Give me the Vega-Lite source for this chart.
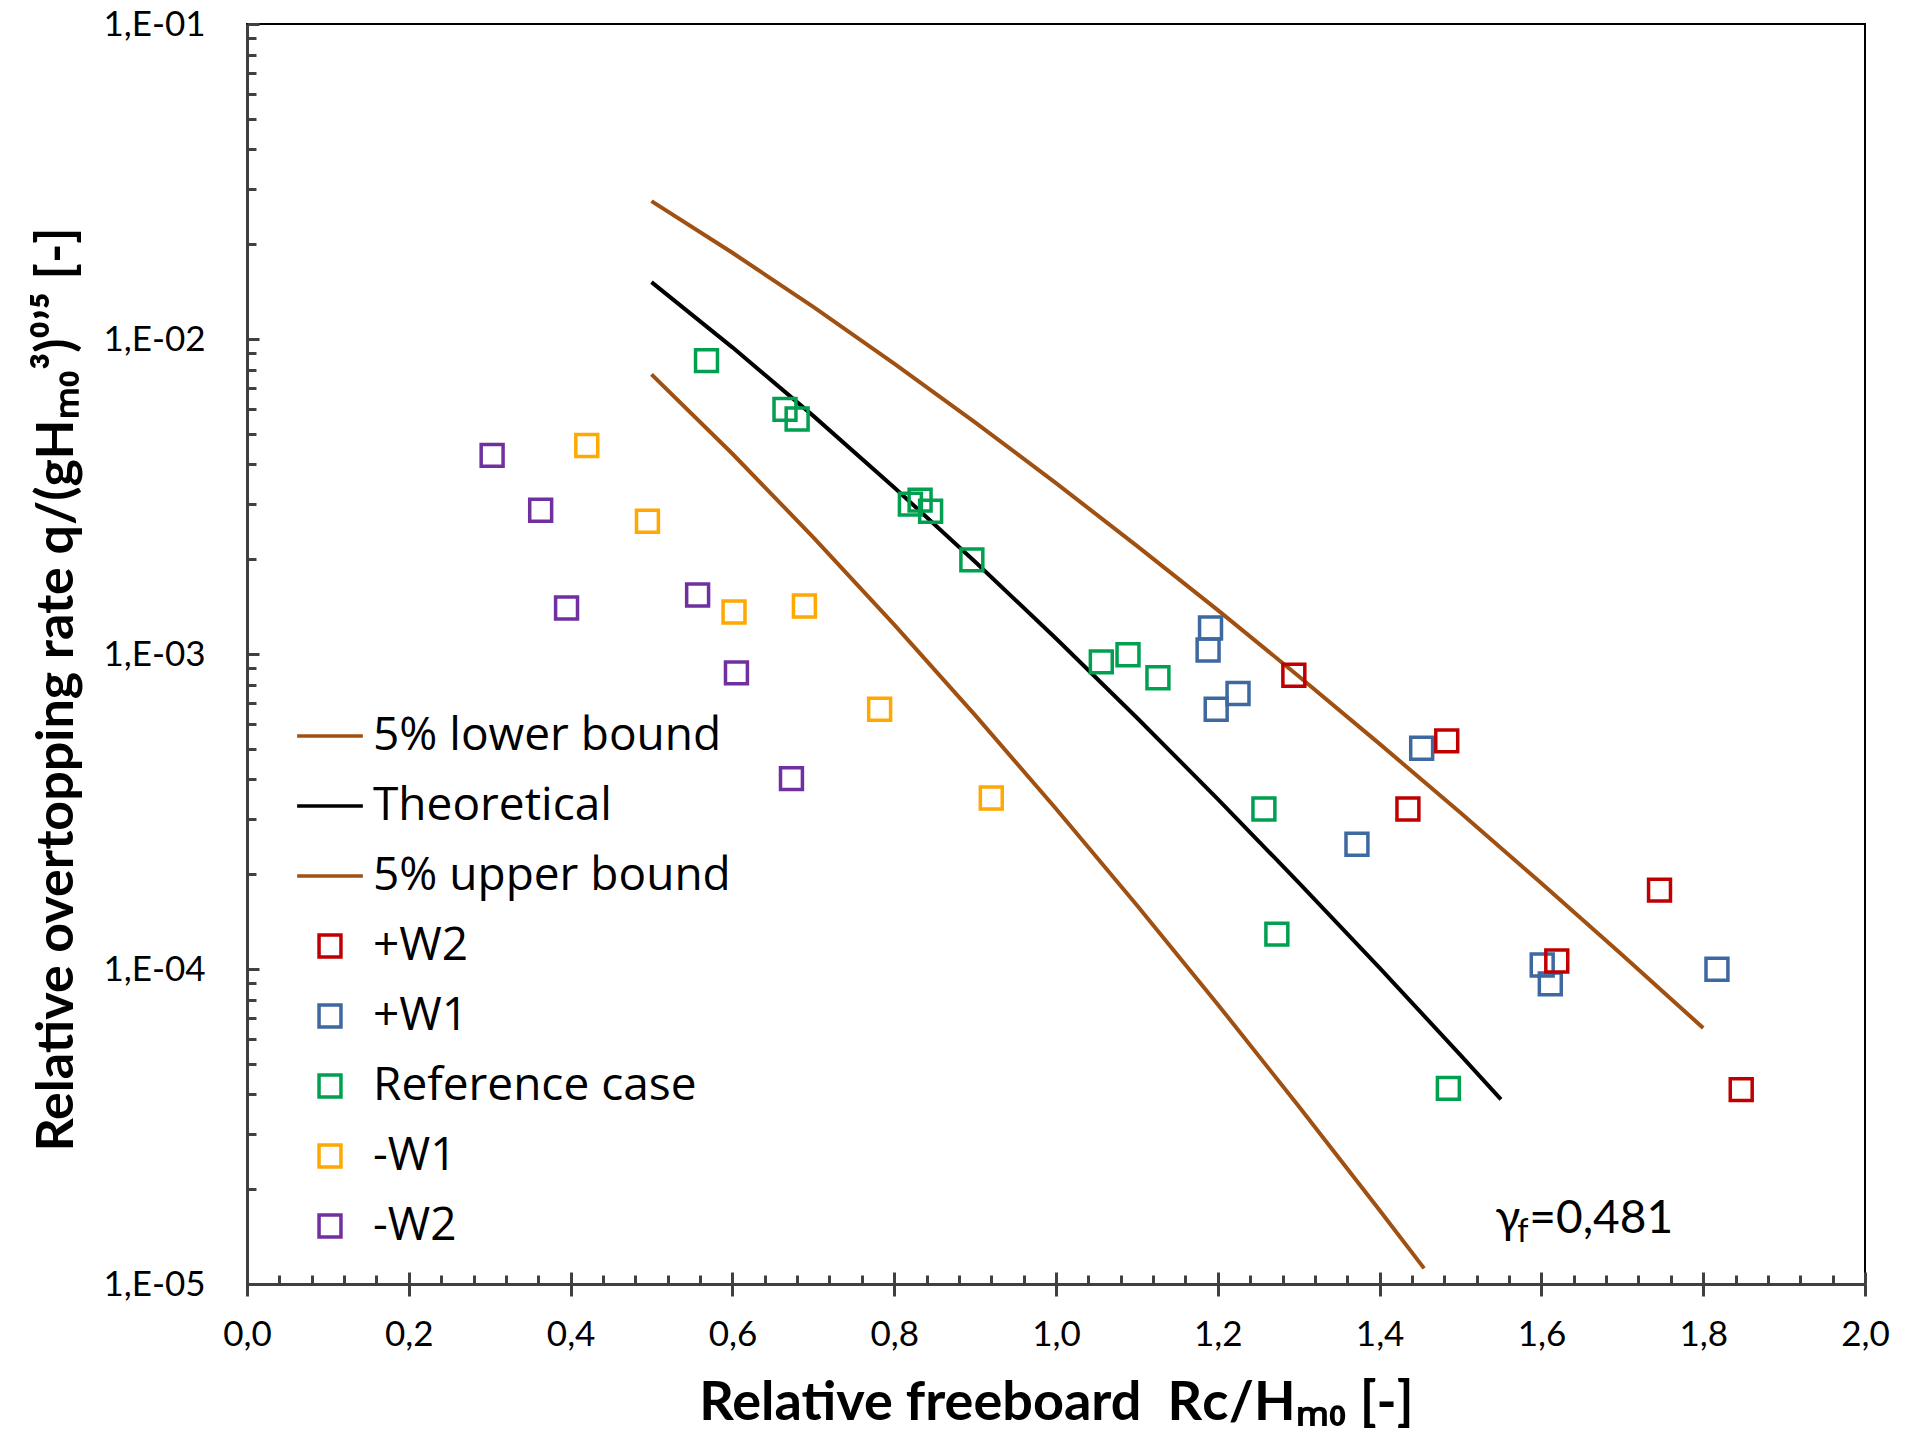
{
  "$schema": "https://vega.github.io/schema/vega-lite/v6.json",
  "autosize": {"type": "none"},
  "padding": {"left": 247, "top": 24, "right": 40, "bottom": 151},
  "width": 1618,
  "height": 1260,
  "background": "white",
  "config": {
    "view": {"stroke": "#000000", "strokeWidth": 2},
    "axis": {
      "grid": false,
      "labelFont": "Lato",
      "labelFontSize": 35,
      "labelColor": "#000000",
      "titleFont": "Lato",
      "titleFontSize": 52,
      "titleFontWeight": "bold",
      "titleColor": "#000000",
      "domainColor": "#404040",
      "domainWidth": 3,
      "tickColor": "#404040",
      "tickWidth": 3
    },
    "legend": {
      "orient": "none",
      "legendX": 60,
      "legendY": 689,
      "padding": 0,
      "gridAlign": "all",
      "labelFont": "Open Sans",
      "labelFontSize": 46,
      "labelColor": "#000000",
      "labelOffset": 20,
      "rowPadding": 24,
      "symbolSize": 480,
      "symbolStrokeWidth": 3.5,
      "labelLimit": 600
    }
  },
  "datasets": {
    "curves": [
      {"series": "5% upper bound", "x": 0.5, "q": 0.02739},
      {"series": "5% upper bound", "x": 0.6, "q": 0.018788},
      {"series": "5% upper bound", "x": 0.7, "q": 0.01264},
      {"series": "5% upper bound", "x": 0.8, "q": 0.008354},
      {"series": "5% upper bound", "x": 0.9, "q": 0.005437},
      {"series": "5% upper bound", "x": 1.0, "q": 0.003486},
      {"series": "5% upper bound", "x": 1.1, "q": 0.002205},
      {"series": "5% upper bound", "x": 1.2, "q": 0.0013777},
      {"series": "5% upper bound", "x": 1.3, "q": 0.0008503},
      {"series": "5% upper bound", "x": 1.4, "q": 0.0005185},
      {"series": "5% upper bound", "x": 1.5, "q": 0.0003132},
      {"series": "5% upper bound", "x": 1.6, "q": 0.0001872},
      {"series": "5% upper bound", "x": 1.7, "q": 0.0001108},
      {"series": "5% upper bound", "x": 1.8, "q": 0.00006496},
      {"series": "Theoretical", "x": 0.5, "q": 0.015151},
      {"series": "Theoretical", "x": 0.6, "q": 0.00941},
      {"series": "Theoretical", "x": 0.7, "q": 0.005702},
      {"series": "Theoretical", "x": 0.8, "q": 0.003379},
      {"series": "Theoretical", "x": 0.9, "q": 0.001963},
      {"series": "Theoretical", "x": 1.0, "q": 0.0011194},
      {"series": "Theoretical", "x": 1.1, "q": 0.0006277},
      {"series": "Theoretical", "x": 1.2, "q": 0.0003463},
      {"series": "Theoretical", "x": 1.3, "q": 0.0001881},
      {"series": "Theoretical", "x": 1.4, "q": 0.0001008},
      {"series": "Theoretical", "x": 1.5, "q": 0.0000533},
      {"series": "Theoretical", "x": 1.55, "q": 0.00003856},
      {"series": "5% lower bound", "x": 0.5, "q": 0.007725},
      {"series": "5% lower bound", "x": 0.6, "q": 0.004322},
      {"series": "5% lower bound", "x": 0.7, "q": 0.002347},
      {"series": "5% lower bound", "x": 0.8, "q": 0.0012397},
      {"series": "5% lower bound", "x": 0.9, "q": 0.0006396},
      {"series": "5% lower bound", "x": 1.0, "q": 0.0003226},
      {"series": "5% lower bound", "x": 1.1, "q": 0.0001594},
      {"series": "5% lower bound", "x": 1.2, "q": 0.00007719},
      {"series": "5% lower bound", "x": 1.3, "q": 0.00003667},
      {"series": "5% lower bound", "x": 1.4, "q": 0.00001714},
      {"series": "5% lower bound", "x": 1.455, "q": 0.00001121}
    ],
    "pts": [
      {"series": "-W2", "x": 0.303, "q": 0.00427},
      {"series": "-W2", "x": 0.363, "q": 0.00286},
      {"series": "-W2", "x": 0.395, "q": 0.0014},
      {"series": "-W2", "x": 0.557, "q": 0.00154},
      {"series": "-W2", "x": 0.605, "q": 0.000871},
      {"series": "-W2", "x": 0.673, "q": 0.000402},
      {"series": "-W1", "x": 0.42, "q": 0.00459},
      {"series": "-W1", "x": 0.495, "q": 0.00264},
      {"series": "-W1", "x": 0.602, "q": 0.00136},
      {"series": "-W1", "x": 0.689, "q": 0.00142},
      {"series": "-W1", "x": 0.782, "q": 0.000668},
      {"series": "-W1", "x": 0.92, "q": 0.000349},
      {"series": "Reference case", "x": 0.568, "q": 0.00854},
      {"series": "Reference case", "x": 0.665, "q": 0.00598},
      {"series": "Reference case", "x": 0.68, "q": 0.00557},
      {"series": "Reference case", "x": 0.82, "q": 0.00299},
      {"series": "Reference case", "x": 0.832, "q": 0.00308},
      {"series": "Reference case", "x": 0.845, "q": 0.00284},
      {"series": "Reference case", "x": 0.896, "q": 0.00199},
      {"series": "Reference case", "x": 1.056, "q": 0.000944},
      {"series": "Reference case", "x": 1.089, "q": 0.000995},
      {"series": "Reference case", "x": 1.126, "q": 0.000841},
      {"series": "Reference case", "x": 1.257, "q": 0.000322},
      {"series": "Reference case", "x": 1.273, "q": 0.000129},
      {"series": "Reference case", "x": 1.485, "q": 0.0000418},
      {"series": "+W1", "x": 1.191, "q": 0.00121},
      {"series": "+W1", "x": 1.188, "q": 0.00103},
      {"series": "+W1", "x": 1.225, "q": 0.000749},
      {"series": "+W1", "x": 1.198, "q": 0.000668},
      {"series": "+W1", "x": 1.452, "q": 0.000502},
      {"series": "+W1", "x": 1.372, "q": 0.000249},
      {"series": "+W1", "x": 1.601, "q": 0.000103},
      {"series": "+W1", "x": 1.611, "q": 0.0000897},
      {"series": "+W1", "x": 1.817, "q": 0.0000998},
      {"series": "+W2", "x": 1.294, "q": 0.000856},
      {"series": "+W2", "x": 1.483, "q": 0.00053},
      {"series": "+W2", "x": 1.435, "q": 0.000322},
      {"series": "+W2", "x": 1.746, "q": 0.000178},
      {"series": "+W2", "x": 1.619, "q": 0.000106},
      {"series": "+W2", "x": 1.847, "q": 0.0000414}
    ],
    "bigtext": [
      {"x": 1.543, "q": 0.0000145, "t": "γ"},
      {"x": 1.585, "q": 0.0000145, "t": "=0,481"}
    ],
    "subtext": [
      {"x": 1.570, "q": 0.0000136, "t": "f"}
    ]
  },
  "resolve": {"axis": {"x": "independent", "y": "independent"}},
  "layer": [
    {
      "data": {"name": "curves"},
      "mark": {"type": "line", "strokeWidth": 4, "clip": true},
      "encoding": {
        "x": {
          "field": "x", "type": "quantitative",
          "scale": {"domain": [0, 2], "nice": false, "zero": false},
          "axis": {
            "orient": "bottom",
            "title": "Relative freeboard\u00a0\u00a0Rᴄ/Hₘ₀ [-]",
            "titleY": 135, "titleX": 809, "titleBaseline": "alphabetic",
            "titleFontSize": 54,
            "values": [0, 0.2, 0.4, 0.6, 0.8, 1.0, 1.2, 1.4, 1.6, 1.8, 2.0],
            "labelExpr": "replace(format(datum.value, '.1f'), '.', ',')",
            "tickSize": 12, "labelPadding": 21, "labelFlush": false
          }
        },
        "y": {
          "field": "q", "type": "quantitative",
          "scale": {"type": "log", "domain": [0.00001, 0.1], "nice": false},
          "axis": {
            "orient": "left",
            "title": "Relative overtopping rate q/(gHₘ₀³)⁰ʼ⁵ [-]",
            "titleX": -175, "titleY": 665, "titleBaseline": "alphabetic",
            "values": [0.00001, 0.0001, 0.001, 0.01, 0.1],
            "labelExpr": "'1,E-0' + round(-log(datum.value)/LN10)",
            "ticks": false, "labelPadding": 42, "labelFlush": false
          }
        },
        "detail": {"field": "series"},
        "color": {
          "field": "series", "type": "nominal",
          "scale": {
            "domain": ["5% lower bound", "Theoretical", "5% upper bound", "+W2", "+W1", "Reference case", "-W1", "-W2"],
            "range": ["#A05010", "#000000", "#A05010", "#C00000", "#3D68A0", "#00A050", "#FFA800", "#7030A0"]
          },
          "legend": {"title": null}
        }
      }
    },
    {
      "data": {"name": "pts"},
      "mark": {"type": "point", "filled": false, "strokeWidth": 3.5, "opacity": 1, "size": 480},
      "encoding": {
        "x": {"field": "x", "type": "quantitative", "axis": null},
        "y": {"field": "q", "type": "quantitative", "axis": null},
        "color": {"field": "series", "type": "nominal", "legend": {"title": null}},
        "shape": {
          "field": "series", "type": "nominal",
          "scale": {
            "domain": ["5% lower bound", "Theoretical", "5% upper bound", "+W2", "+W1", "Reference case", "-W1", "-W2"],
            "range": ["M-3,0H3", "M-3,0H3", "M-3,0H3", "square", "square", "square", "square", "square"]
          },
          "legend": {"title": null}
        }
      }
    },
    {
      "data": {"name": "bigtext"},
      "mark": {"type": "text", "font": "Lato", "fontSize": 46, "align": "left", "baseline": "alphabetic", "color": "#000000"},
      "encoding": {
        "x": {
          "field": "x", "type": "quantitative",
          "axis": {"orient": "bottom", "title": null, "labels": false, "domain": false,
                   "values": [0, 0.2, 0.4, 0.6, 0.8, 1.0, 1.2, 1.4, 1.6, 1.8, 2.0], "tickSize": -12}
        },
        "y": {
          "field": "q", "type": "quantitative",
          "axis": {"orient": "left", "title": null, "labels": false, "domain": false,
                   "values": [0.00001, 0.0001, 0.001, 0.01, 0.1], "tickSize": -12}
        },
        "text": {"field": "t"}
      }
    },
    {
      "data": {"name": "subtext"},
      "mark": {"type": "text", "font": "Lato", "fontSize": 32, "align": "left", "baseline": "alphabetic", "color": "#000000"},
      "encoding": {
        "x": {
          "field": "x", "type": "quantitative",
          "axis": {"orient": "bottom", "title": null, "labels": false, "domain": false, "tickSize": -9,
                   "values": [0.04,0.08,0.12,0.16,0.24,0.28,0.32,0.36,0.44,0.48,0.52,0.56,0.64,0.68,0.72,0.76,0.84,0.88,0.92,0.96,1.04,1.08,1.12,1.16,1.24,1.28,1.32,1.36,1.44,1.48,1.52,1.56,1.64,1.68,1.72,1.76,1.84,1.88,1.92,1.96]}
        },
        "y": {
          "field": "q", "type": "quantitative",
          "axis": {"orient": "left", "title": null, "labels": false, "domain": false, "tickSize": -9,
                   "values": [0.00002,0.00003,0.00004,0.00005,0.00006,0.00007,0.00008,0.00009,0.0002,0.0003,0.0004,0.0005,0.0006,0.0007,0.0008,0.0009,0.002,0.003,0.004,0.005,0.006,0.007,0.008,0.009,0.02,0.03,0.04,0.05,0.06,0.07,0.08,0.09]}
        },
        "text": {"field": "t"}
      }
    }
  ]
}
